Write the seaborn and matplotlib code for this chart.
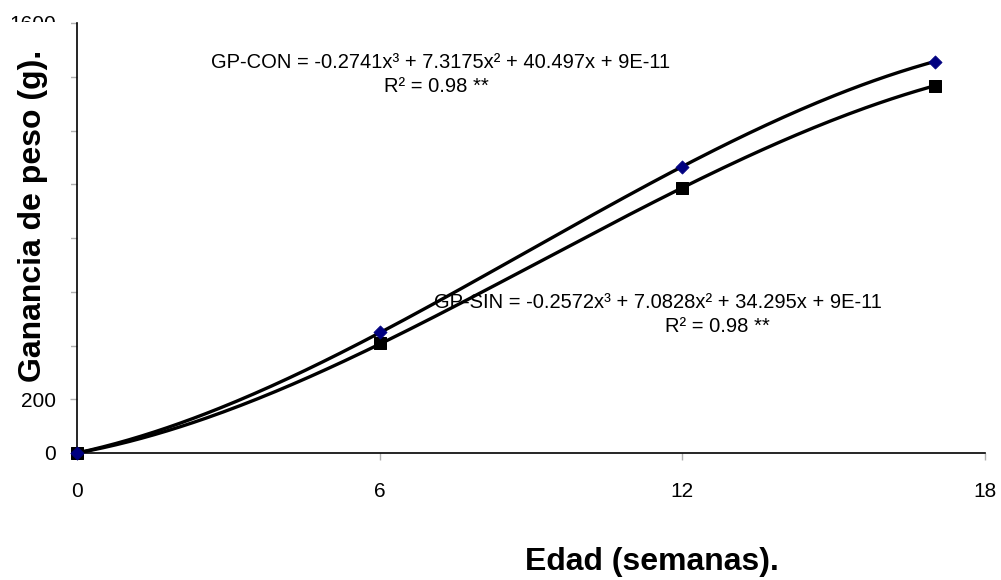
import matplotlib
matplotlib.use("Agg")
import matplotlib.pyplot as plt
import matplotlib.transforms as mtransforms
import numpy as np
import pandas as pd
import seaborn as sns
from matplotlib.patches import Rectangle

# Observed weight gain (g) by age (weeks)
edad = [0, 6, 12, 17]
gp_con = [0, 450, 1065, 1456]
gp_sin = [0, 408, 987, 1367]

# Cubic trendline coefficients (x^3, x^2, x, c)
coef_con = [-0.2741, 7.3175, 40.497, 9e-11]
coef_sin = [-0.2572, 7.0828, 34.295, 9e-11]

x_ticks = [0, 6, 12, 18]
y_ticks = [0, 200, 400, 600, 800, 1000, 1200, 1400, 1600]
# middle labels sit under the axis title in the original, only these show
y_labels = ['0', '200', '', '', '', '', '', '', '1600']

sns.set_style("white")
plt.rcParams['font.family'] = ['Liberation Sans', 'DejaVu Sans']
plt.rcParams['text.color'] = 'black'

fig = plt.figure(figsize=(10.01, 5.8), dpi=100)
ax = fig.add_axes([77 / 1001, 1 - 453 / 580, (985 - 77) / 1001, (453 - 23) / 580])

# pixel coords from top-left, for the annotations
px = mtransforms.Affine2D().scale(1, -1).translate(0, 580)

xs = np.linspace(0, 17, 200)
trend = pd.DataFrame({
    'x': np.concatenate([xs, xs]),
    'y': np.concatenate([np.polyval(coef_con, xs), np.polyval(coef_sin, xs)]),
    'serie': ['CON'] * len(xs) + ['SIN'] * len(xs),
})
sns.lineplot(data=trend, x='x', y='y', units='serie', estimator=None,
             color='black', linewidth=2.4, ax=ax, legend=False)

pts = pd.DataFrame({'x': edad + edad, 'y': gp_sin + gp_con,
                    'serie': ['SIN'] * 4 + ['CON'] * 4})
sns.scatterplot(data=pts[pts.serie == 'SIN'], x='x', y='y', marker='s', s=80,
                color='black', edgecolor='black', ax=ax, zorder=4, clip_on=False)
sns.scatterplot(data=pts[pts.serie == 'CON'], x='x', y='y', marker='D', s=45,
                color='#000080', edgecolor='#000080', ax=ax, zorder=5, clip_on=False)

ax.set_xlim(0, 18)
ax.set_ylim(0, 1600)
ax.set_xticks(x_ticks)
ax.set_yticks(y_ticks)
ax.set_yticklabels(y_labels)
ax.tick_params(axis='both', direction='out', length=5, width=1, color='#b0b0b0',
               labelsize=15, labelcolor='black', left=True, bottom=True)
ax.tick_params(axis='x', pad=16)
ax.tick_params(axis='y', pad=10)
for s in ['top', 'right']:
    ax.spines[s].set_visible(False)
for s in ['left', 'bottom']:
    ax.spines[s].set_color('black')
    ax.spines[s].set_linewidth(1.2)
ax.set_xlabel('')
ax.set_ylabel('')

# white block behind the y-axis title (clips the top tick label like the original)
fig.patches.append(Rectangle((0, 1 - 386 / 580), 71 / 1001, (386 - 22) / 580,
                             transform=fig.transFigure, facecolor='white',
                             edgecolor='none', zorder=5))
fig.text(33 / 1001, 1 - 216 / 580, 'Ganancia de peso (g).', rotation=90,
         ha='center', va='center', fontsize=23, fontweight='bold', zorder=6)
fig.text(652 / 1001, 1 - 562 / 580, 'Edad (semanas).', ha='center', va='center',
         fontsize=23, fontweight='bold', zorder=6)

ax.text(441, 62, 'GP-CON = -0.2741x³ + 7.3175x² + 40.497x + 9E-11',
        transform=px, fontsize=14.5, ha='center', va='center')
ax.text(436, 87, 'R² = 0.98 **', transform=px, fontsize=14.5,
        ha='center', va='center')
ax.text(658, 303, 'GP-SIN = -0.2572x³ + 7.0828x² + 34.295x + 9E-11',
        transform=px, fontsize=14.5, ha='center', va='center')
ax.text(717, 327, 'R² = 0.98 **', transform=px, fontsize=14.5,
        ha='center', va='center')

fig.savefig('out.png', dpi=100)
